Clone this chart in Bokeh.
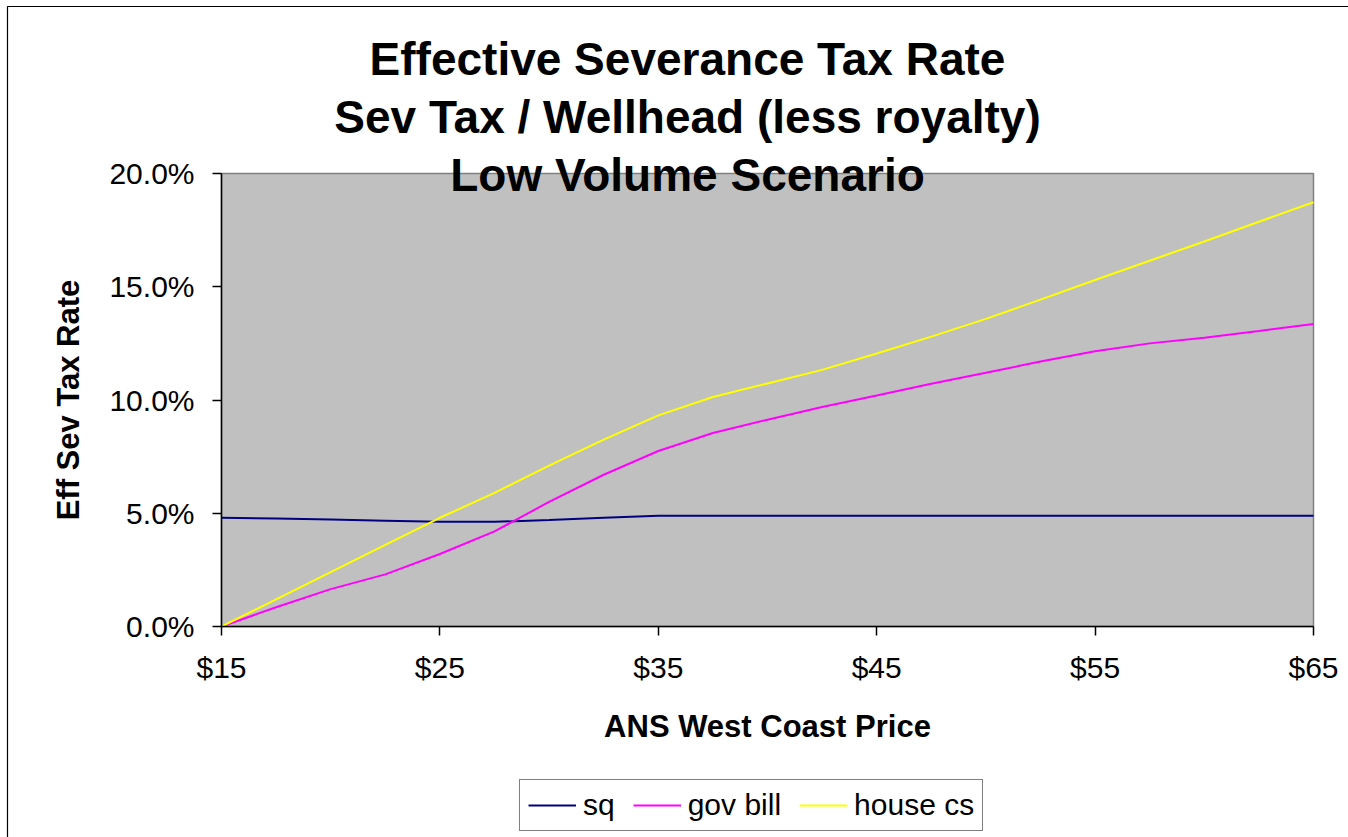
from bokeh.plotting import figure
from bokeh.models import (Range1d, FixedTicker, NumeralTickFormatter, Legend,
                          LegendItem, Label)
from bokeh.embed import file_html
from bokeh.resources import INLINE

# ANS West Coast price ($/bbl)
price = [15, 17.5, 20, 22.5, 25, 27.5, 30, 32.5, 35, 37.5, 40,
         42.5, 45, 47.5, 50, 52.5, 55, 57.5, 60, 62.5, 65]

# Effective severance tax rate (sev tax / wellhead value less royalty)
sq = [0.0480, 0.0477, 0.0472, 0.0467, 0.0462, 0.0462, 0.0470, 0.0480, 0.0489,
      0.0489, 0.0489, 0.0489, 0.0489, 0.0489, 0.0489, 0.0489, 0.0489, 0.0489,
      0.0489, 0.0489, 0.0489]
gov_bill = [0.0000, 0.0085, 0.0165, 0.0230, 0.0320, 0.0420, 0.0550, 0.0670,
            0.0775, 0.0854, 0.0913, 0.0969, 0.1020, 0.1072, 0.1120, 0.1170,
            0.1215, 0.1250, 0.1275, 0.1305, 0.1336]
house_cs = [0.0000, 0.0120, 0.0240, 0.0360, 0.0480, 0.0590, 0.0710, 0.0825,
            0.0932, 0.1013, 0.1073, 0.1133, 0.1205, 0.1280, 0.1358, 0.1443,
            0.1530, 0.1615, 0.1700, 0.1787, 0.1873]

series_names = ["sq", "gov bill", "house cs"]
series_colors = ["#000080", "#FF00FF", "#FFFF00"]

x_ticks = [15, 25, 35, 45, 55, 65]
y_ticks = [0.0, 0.05, 0.10, 0.15, 0.20]

title_lines = ["Effective Severance Tax Rate",
               "Sev Tax / Wellhead (less royalty)",
               "Low Volume Scenario"]

FONT = "Liberation Sans"
W, H = 1348, 837
# pixel box of the plotting area inside the canvas
F_LEFT, F_RIGHT, F_TOP, F_BOTTOM = 221, 1313, 173, 626

x0, x1 = 15, 65
y0, y1 = 0.0, 0.20

sx = (F_RIGHT - F_LEFT) / (x1 - x0)
sy = (F_BOTTOM - F_TOP) / (y1 - y0)


def px_to_x(px):
    return x0 + (px - F_LEFT) / sx


def py_to_y(py):
    return y0 + (F_BOTTOM - py) / sy


# the frame covers the whole canvas; axes sit at fixed positions inside it
p = figure(width=W, height=H, output_backend="svg", toolbar_location=None,
           x_range=Range1d(px_to_x(0), px_to_x(W)),
           y_range=Range1d(py_to_y(H), py_to_y(0)),
           min_border=0, min_border_left=0, min_border_right=0,
           min_border_top=0, min_border_bottom=0)

p.background_fill_color = "white"
p.border_fill_color = "white"
p.outline_line_color = None
p.xgrid.visible = False
p.ygrid.visible = False

# chart area border
p.line([px_to_x(7), px_to_x(7), px_to_x(W + 20)],
       [py_to_y(H + 20), py_to_y(6), py_to_y(6)],
       line_color="black", line_width=1.2)

# plot area
p.quad(left=x0, right=x1, bottom=y0, top=y1,
       fill_color="#C0C0C0", line_color="#808080", line_width=1.5)

# axes
for ax in (p.xaxis[0], p.yaxis[0]):
    ax.axis_line_color = "black"
    ax.axis_line_width = 1.5
    ax.major_tick_line_color = "black"
    ax.major_tick_line_width = 1.5
    ax.major_tick_in = 0
    ax.major_tick_out = 9
    ax.minor_tick_line_color = None
    ax.major_label_text_font = FONT
    ax.major_label_text_font_size = "30px"
    ax.major_label_text_color = "black"
    ax.axis_label_text_font = FONT
    ax.axis_label_text_font_size = "31px"
    ax.axis_label_text_font_style = "bold"
    ax.axis_label_text_color = "black"

p.xaxis.fixed_location = y0
p.xaxis.bounds = (x0, x1)
p.xaxis.ticker = FixedTicker(ticks=x_ticks)
p.xaxis.formatter = NumeralTickFormatter(format="$0")
p.xaxis.major_label_standoff = 15
p.xaxis.axis_label = "ANS West Coast Price"
p.xaxis.axis_label_standoff = 22

p.yaxis.fixed_location = x0
p.yaxis.bounds = (y0, y1)
p.yaxis.ticker = FixedTicker(ticks=y_ticks)
p.yaxis.formatter = NumeralTickFormatter(format="0.0%")
p.yaxis.major_label_standoff = 18
p.yaxis.axis_label = "Eff Sev Tax Rate"
p.yaxis.axis_label_standoff = 20

# series lines
renderers = []
for vals, color in zip([sq, gov_bill, house_cs], series_colors):
    r = p.line(price, vals, line_color=color, line_width=2)
    renderers.append(r)

legend = Legend(items=[LegendItem(label=n, renderers=[r])
                       for n, r in zip(series_names, renderers)],
                orientation="horizontal",
                location=(519, H - 831),
                label_text_font=FONT, label_text_font_size="30px",
                label_text_color="black",
                glyph_width=48, glyph_height=20, label_standoff=7,
                spacing=18, padding=8, margin=0,
                border_line_color="black", border_line_width=1,
                background_fill_color="white", background_fill_alpha=1.0)
p.add_layout(legend, "center")

# three-line chart title
for line, base in zip(title_lines, [58, 116, 174]):
    p.add_layout(Label(x=px_to_x(687), y=py_to_y(base), text=line,
                       text_align="center", text_baseline="alphabetic",
                       text_font=FONT, text_font_size="46px",
                       text_font_style="bold", text_color="black"))

open("out.html", "w").write(file_html(p, INLINE))
